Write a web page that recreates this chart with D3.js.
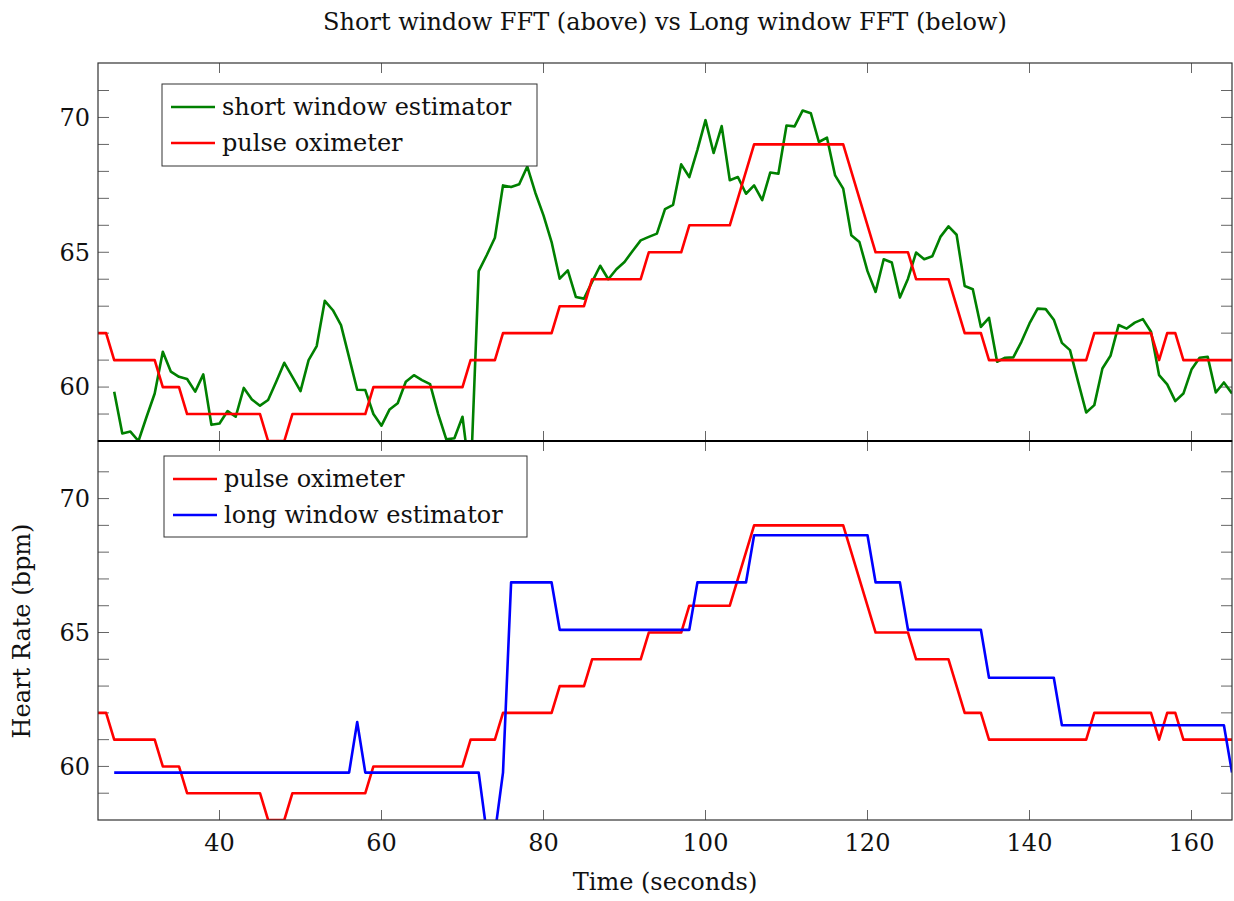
<!DOCTYPE html>
<html>
<meta charset="utf-8">
<head>
  <title>Short vs long window FFT</title>
</head>
<style>
body { margin: 0; background: white; }
text { font-family: "DejaVu Serif", "Liberation Serif", serif; fill: #111; }
.frame { fill: none; stroke: #333; stroke-width: 1.2; }
.tick { stroke: #666; stroke-width: 1; }
.series { fill: none; stroke-width: 2.6; stroke-linejoin: round; }
</style>
<body>
<svg width="1234" height="901"></svg>
<script src="https://cdnjs.cloudflare.com/ajax/libs/d3/7.8.5/d3.min.js"></script>
<script>
// pulse oximeter breakpoints [time, bpm]
var oximeter = [[25,62],[26,62],[27,61],[32,61],[33,60],[35,60],[36,59],[45,59],[46,58],[48,58],[49,59],[58,59],[59,60],[70,60],[71,61],[74,61],[75,62],[81,62],[82,63],[85,63],[86,64],[92,64],[93,65],[97,65],[98,66],[103,66],[106,69],[117,69],[121,65],[125,65],[126,64],[130,64],[132,62],[134,62],[135,61],[147,61],[148,62],[155,62],[156,61],[157,62],[158,62],[159,61],[165,61]];

// short window estimator, one value per second starting at t=27
var shortStart = 27;
var shortWindow = [59.83,58.28,58.35,58.0,58.9,59.76,61.31,60.57,60.38,60.3,59.83,60.47,58.6,58.65,59.11,58.9,59.97,59.54,59.31,59.52,60.2,60.9,60.38,59.85,61.0,61.52,63.2,62.85,62.3,61.1,59.9,59.89,59.0,58.57,59.17,59.4,60.2,60.44,60.26,60.11,59.0,58.06,58.1,58.9,56.5,64.3,64.9,65.54,67.48,67.42,67.52,68.18,67.2,66.37,65.38,64.02,64.33,63.34,63.28,63.9,64.5,64.0,64.37,64.64,65.05,65.44,65.57,65.69,66.6,66.76,68.26,67.79,68.8,69.9,68.68,69.68,67.67,67.79,67.17,67.48,66.93,67.96,67.91,69.7,69.67,70.26,70.16,69.09,69.25,67.85,67.36,65.63,65.38,64.3,63.53,64.74,64.62,63.32,64.02,64.99,64.74,64.85,65.57,65.96,65.65,63.75,63.63,62.23,62.57,60.94,61.09,61.1,61.68,62.36,62.91,62.89,62.5,61.64,61.37,60.2,59.06,59.33,60.69,61.16,62.3,62.17,62.39,62.52,62.05,60.44,60.1,59.48,59.76,60.65,61.09,61.12,59.8,60.17,59.76];

// long window estimator breakpoints [time, bpm]
var longWindow = [[27,59.77],[56,59.77],[57,61.66],[58,59.77],[72,59.77],[73,57.5],[74,57.5],[75,59.77],[76,66.87],[81,66.87],[82,65.1],[98,65.1],[99,66.87],[105,66.87],[106,68.63],[120,68.63],[121,66.87],[124,66.87],[125,65.1],[134,65.1],[135,63.31],[143,63.31],[144,61.54],[164,61.54],[165,59.77]];

var xTicks = [40, 60, 80, 100, 120, 140, 160];
var yTicks = [60, 65, 70];
var yMinor = d3.range(59, 72);

var svg = d3.select('svg');
var left = 98, right = 1232;
var x = d3.scaleLinear().domain([25, 165]).range([left, right]);

var shortPts = shortWindow.map(function(v, i) { return [shortStart + i, v]; });

var panels = [
  { top: 63, bottom: 441, domain: [58, 72.02],
    series: [{ data: shortPts, color: 'rgb(0,128,0)', name: 'short window estimator' },
             { data: oximeter, color: 'rgb(255,0,0)', name: 'pulse oximeter' }],
    legend: { x: 162, y: 84, w: 375, h: 82 }, xLabels: false },
  { top: 441, bottom: 820, domain: [58, 72.15],
    series: [{ data: oximeter, color: 'rgb(255,0,0)', name: 'pulse oximeter' },
             { data: longWindow, color: 'rgb(0,0,255)', name: 'long window estimator' }],
    legend: { x: 164, y: 456, w: 363, h: 81 }, xLabels: true }
];

panels.forEach(function(p, pi) {
  var y = d3.scaleLinear().domain(p.domain).range([p.bottom, p.top]);
  var g = svg.append('g');
  var clipId = 'clip' + pi;
  svg.append('clipPath').attr('id', clipId).append('rect')
    .attr('x', left).attr('y', p.top).attr('width', right - left).attr('height', p.bottom - p.top);

  // ticks inside the frame
  xTicks.forEach(function(t) {
    g.append('line').attr('class', 'tick').attr('x1', x(t)).attr('x2', x(t)).attr('y1', p.bottom).attr('y2', p.bottom - 10);
    g.append('line').attr('class', 'tick').attr('x1', x(t)).attr('x2', x(t)).attr('y1', p.top).attr('y2', p.top + 10);
  });
  yMinor.forEach(function(v) {
    g.append('line').attr('class', 'tick').attr('x1', left).attr('x2', left + 11).attr('y1', y(v)).attr('y2', y(v));
    g.append('line').attr('class', 'tick').attr('x1', right).attr('x2', right - 11).attr('y1', y(v)).attr('y2', y(v));
  });
  yTicks.forEach(function(v) {
    g.append('text').attr('x', left - 8).attr('y', y(v)).attr('dy', '0.35em')
      .attr('text-anchor', 'end').style('font-size', '24px').text(v);
  });
  if (p.xLabels) {
    xTicks.forEach(function(t) {
      g.append('text').attr('x', x(t)).attr('y', p.bottom + 31)
        .attr('text-anchor', 'middle').style('font-size', '24px').text(t);
    });
  }

  var line = d3.line().x(function(d) { return x(d[0]); }).y(function(d) { return y(d[1]); });
  p.series.forEach(function(s) {
    g.append('path').attr('class', 'series').attr('clip-path', 'url(#' + clipId + ')')
      .attr('stroke', s.color).attr('d', line(s.data));
  });

  g.append('rect').attr('class', 'frame').attr('x', left).attr('y', p.top)
    .attr('width', right - left).attr('height', p.bottom - p.top);

  // legend
  var L = p.legend;
  var lg = g.append('g');
  lg.append('rect').attr('x', L.x).attr('y', L.y).attr('width', L.w).attr('height', L.h)
    .attr('fill', 'white').attr('stroke', '#333').attr('stroke-width', 1);
  p.series.forEach(function(s, i) {
    var ly = L.y + 23 + i * 36;
    lg.append('line').attr('x1', L.x + 9).attr('x2', L.x + 53).attr('y1', ly).attr('y2', ly)
      .attr('stroke', s.color).attr('stroke-width', 2.6);
    lg.append('text').attr('x', L.x + 60).attr('y', ly).attr('dy', '0.32em')
      .style('font-size', '24px').text(s.name);
  });
});

// divider between panels
svg.append('line').attr('x1', left).attr('x2', right).attr('y1', 441).attr('y2', 441)
  .attr('stroke', 'black').attr('stroke-width', 2);

svg.append('text').attr('x', 665).attr('y', 30).attr('text-anchor', 'middle')
  .style('font-size', '24px').text('Short window FFT (above) vs Long window FFT (below)');
svg.append('text').attr('x', 665).attr('y', 890).attr('text-anchor', 'middle')
  .style('font-size', '24px').text('Time (seconds)');
svg.append('text').attr('transform', 'translate(30,631) rotate(-90)').attr('text-anchor', 'middle')
  .style('font-size', '24px').text('Heart Rate (bpm)');
</script>
</body>
</html>
